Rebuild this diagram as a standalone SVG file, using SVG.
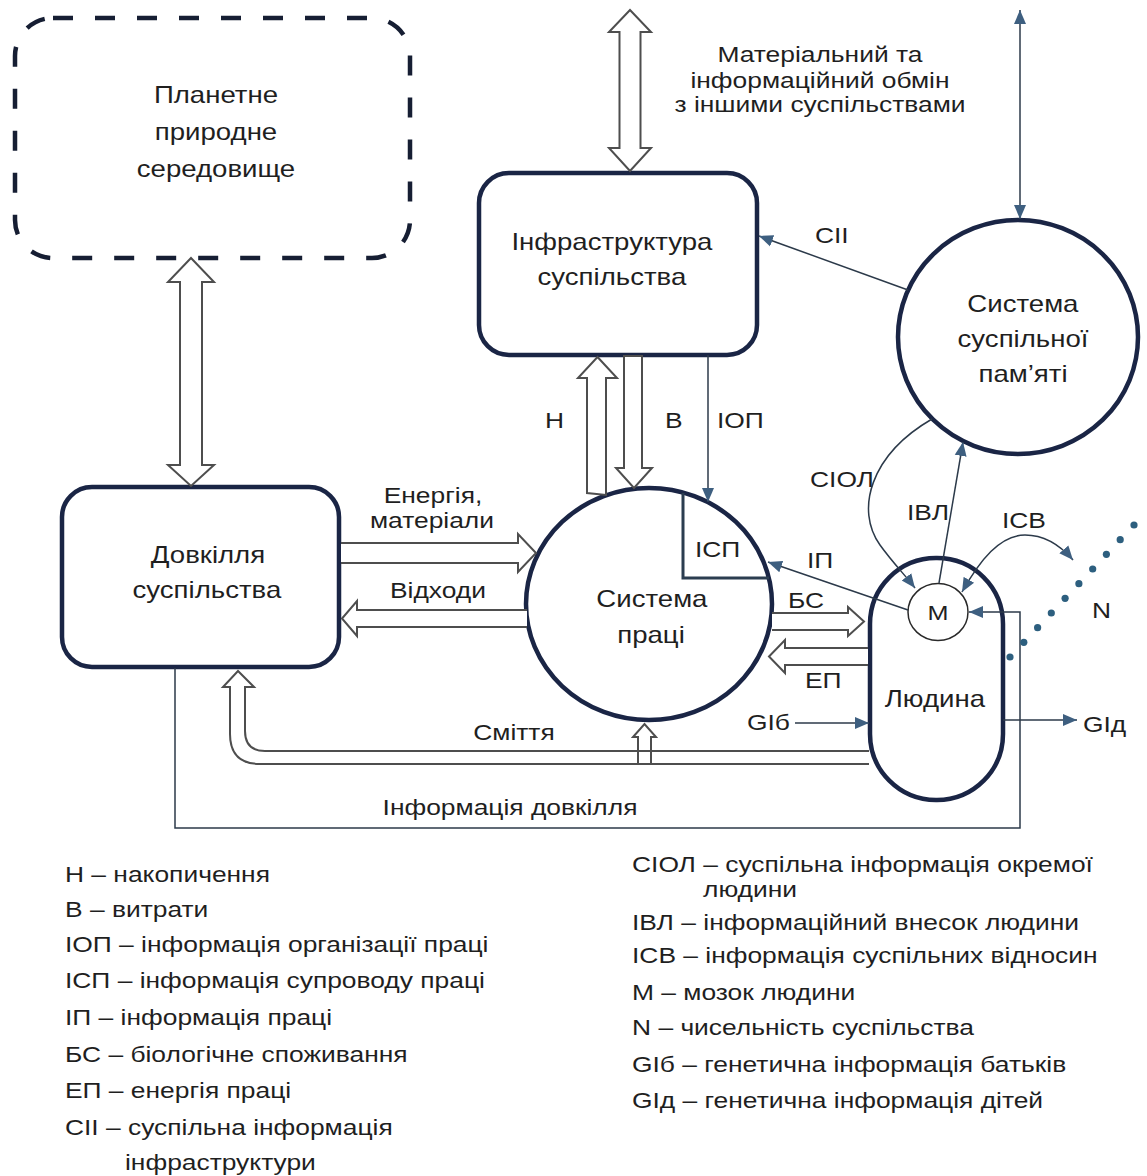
<svg xmlns="http://www.w3.org/2000/svg" width="1147" height="1176" viewBox="0 0 1147 1176">
<style>
  text { font-family: "Liberation Sans", Arial, sans-serif; fill: #1f1f1f; font-size: 22px; transform-box: fill-box; transform: scaleX(1.2); }
  .l { transform-origin: 0% 50%; }
  .c { text-anchor: middle; transform-origin: 50% 50%; }
  .node { font-size: 23px; }
  .box { fill: #ffffff; stroke: #1a2545; stroke-width: 4.5; }
  .hollow { fill: #ffffff; stroke: #4e4e4e; stroke-width: 2; stroke-linejoin: miter; }
  .thin { fill: none; stroke: #2c3a4a; stroke-width: 1.5; }
</style>
<defs>
  <marker id="ah" markerUnits="userSpaceOnUse" markerWidth="16" markerHeight="14" refX="14" refY="7" orient="auto-start-reverse">
    <path d="M0,1 L14,7 L0,13 Z" fill="#3e5f80"/>
  </marker>
</defs>
<rect width="1147" height="1176" fill="#ffffff"/>

<g id="planet">
  <rect x="15" y="18" width="395" height="240" rx="38" fill="#ffffff" stroke="#161e33" stroke-width="4.5" stroke-dasharray="20 22"/>
  <text class="c node" x="216" y="103">Планетне</text>
  <text class="c node" x="216" y="140">природне</text>
  <text class="c node" x="216" y="177">середовище</text>
</g>

<g id="infrastructure">
  <rect class="box" x="479" y="173" width="278" height="182" rx="30"/>
  <text class="c node" x="612" y="250">Інфраструктура</text>
  <text class="c node" x="612" y="285">суспільства</text>
</g>

<g id="environment">
  <rect class="box" x="62" y="487" width="277" height="180" rx="30"/>
  <text class="c node" x="208" y="563">Довкілля</text>
  <text class="c node" x="207" y="598">суспільства</text>
</g>

<g id="memory">
  <ellipse class="box" cx="1018" cy="337" rx="120" ry="117"/>
  <text class="c node" x="1023" y="312">Система</text>
  <text class="c node" x="1023" y="347">суспільної</text>
  <text class="c node" x="1023" y="382">пам’яті</text>
</g>

<g id="labor">
  <ellipse class="box" cx="649" cy="604" rx="123" ry="116"/>
  <text class="c node" x="652" y="607">Система</text>
  <text class="c node" x="651" y="643">праці</text>
</g>

<g id="human">
  <rect class="box" x="870" y="558" width="133" height="242" rx="66" stroke-width="5"/>
  <text class="c node" x="935" y="707">Людина</text>
</g>

<g id="brain">
  <ellipse cx="938" cy="612" rx="30" ry="28.5" fill="#ffffff" stroke="#2a2a2a" stroke-width="1.5"/>
  <text class="c" x="938" y="620" style="font-size:21px">М</text>
</g>

<g id="connectors">
  <path class="hollow" d="M630,10 L651,32 L640.5,32 L640.5,148 L651,148 L630,171 L609,148 L619.5,148 L619.5,32 L609,32 Z"/>
  <path class="hollow" d="M191,258 L214,282 L202,282 L202,465 L214,465 L191,486 L168,465 L180,465 L180,282 L168,282 Z"/>
  <path class="hollow" d="M597.5,357 L617,378 L606,378 L606,495 L587,493 L587,378 L578,378 Z"/>
  <path class="hollow" d="M624,356 L642,356 L642,468 L652,468 L634,488 L616,468 L624,468 Z"/>
  <path class="hollow" d="M341,543 H518 V534 L536,553 L518,572 V563 H341"/>
  <path class="hollow" d="M527,610 H357 V601 L342,618.5 L357,636 V627 H527"/>
  <path class="hollow" d="M772,613 H848 V607 L864,621.5 L848,636 V630 H772"/>
  <path class="hollow" d="M868,648 H785 V640 L769,656.5 L785,673 V665 H868"/>
  <path class="hollow" d="M869,751 H265 Q245,751 245,731 V687 H254 L238,671 L223,687 H230 V734 Q230,764 260,764 H869"/>
  <path d="M638,764 V737 H633 L644.5,724 L656,737 H651 V764" fill="none" stroke="#4e4e4e" stroke-width="2"/>

  <path d="M683,493 V578 H769" fill="none" stroke="#2b3d50" stroke-width="3"/>

  <line class="thin" x1="1020" y1="10" x2="1020" y2="219" marker-start="url(#ah)" marker-end="url(#ah)"/>
  <line class="thin" x1="908" y1="290" x2="759" y2="236" marker-end="url(#ah)"/>
  <line class="thin" x1="708" y1="355" x2="708" y2="502" marker-end="url(#ah)"/>
  <line class="thin" x1="908" y1="610" x2="768" y2="562" marker-end="url(#ah)"/>
  <line class="thin" x1="939" y1="583" x2="963" y2="442" marker-end="url(#ah)"/>
  <path class="thin" d="M932,419 C870,455 855,510 880,545 C893,563 905,575 915,588" marker-end="url(#ah)"/>
  <path class="thin" d="M962,592 C980,560 1000,535 1025,535 C1045,535 1060,545 1073,560" marker-start="url(#ah)" marker-end="url(#ah)"/>
  <line class="thin" x1="795" y1="723" x2="869" y2="723" marker-end="url(#ah)"/>
  <line class="thin" x1="1003" y1="720" x2="1077" y2="720" marker-end="url(#ah)"/>
  <polyline class="thin" points="175,668 175,828 1020,828 1020,612 969,612" marker-end="url(#ah)"/>

  <g fill="#2d5f7f">
    <circle cx="1010" cy="657" r="3.6"/>
    <circle cx="1023.8" cy="642.3" r="3.6"/>
    <circle cx="1037.6" cy="627.7" r="3.6"/>
    <circle cx="1051.3" cy="613" r="3.6"/>
    <circle cx="1065.1" cy="598.3" r="3.6"/>
    <circle cx="1078.9" cy="583.7" r="3.6"/>
    <circle cx="1092.7" cy="569" r="3.6"/>
    <circle cx="1106.4" cy="554.3" r="3.6"/>
    <circle cx="1120.2" cy="539.7" r="3.6"/>
    <circle cx="1134" cy="525" r="3.6"/>
  </g>
</g>

<g id="labels">
  <text class="c" x="820" y="62">Матеріальний та</text>
  <text class="c" x="820" y="88">інформаційний обмін</text>
  <text class="c" x="820" y="112">з іншими суспільствами</text>
  <text class="l" x="815" y="243">СІІ</text>
  <text class="l" x="545" y="428">Н</text>
  <text class="l" x="665" y="428">В</text>
  <text class="l" x="717" y="428">ІОП</text>
  <text class="c" x="433" y="503">Енергія,</text>
  <text class="c" x="432" y="528">матеріали</text>
  <text class="c" x="438" y="598">Відходи</text>
  <text class="l" x="810" y="487">СІОЛ</text>
  <text class="l" x="907" y="520">ІВЛ</text>
  <text class="l" x="1002" y="528">ІСВ</text>
  <text class="l" x="695" y="557">ІСП</text>
  <text class="l" x="807" y="568">ІП</text>
  <text class="l" x="788" y="608">БС</text>
  <text class="l" x="805" y="688">ЕП</text>
  <text class="l" x="1092" y="618">N</text>
  <text class="l" x="747" y="730">GІб</text>
  <text class="l" x="1083" y="732">GІд</text>
  <text class="c" x="514" y="740">Сміття</text>
  <text class="c" x="510" y="815">Інформація довкілля</text>
</g>

<g id="legend-left">
  <text class="l" x="65" y="882">Н – накопичення</text>
  <text class="l" x="65" y="917">В – витрати</text>
  <text class="l" x="65" y="952">ІОП – інформація організації праці</text>
  <text class="l" x="65" y="988">ІСП – інформація супроводу праці</text>
  <text class="l" x="65" y="1025">ІП – інформація праці</text>
  <text class="l" x="65" y="1062">БС – біологічне споживання</text>
  <text class="l" x="65" y="1098">ЕП – енергія праці</text>
  <text class="l" x="65" y="1135">СІІ – суспільна інформація</text>
  <text class="l" x="125" y="1170">інфраструктури</text>
</g>

<g id="legend-right">
  <text class="l" x="632" y="872">СІОЛ – суспільна інформація окремої</text>
  <text class="l" x="703" y="897">людини</text>
  <text class="l" x="632" y="930">ІВЛ – інформаційний внесок людини</text>
  <text class="l" x="632" y="963">ІСВ – інформація суспільних відносин</text>
  <text class="l" x="632" y="1000">М – мозок людини</text>
  <text class="l" x="632" y="1035">N – чисельність суспільства</text>
  <text class="l" x="632" y="1072">GІб – генетична інформація батьків</text>
  <text class="l" x="632" y="1108">GІд – генетична інформація дітей</text>
</g>
</svg>
